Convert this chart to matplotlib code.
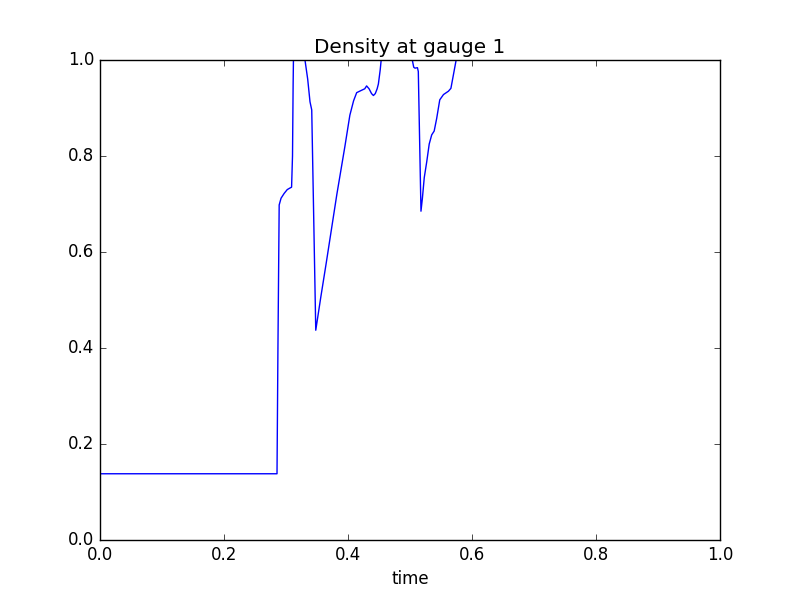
import matplotlib
matplotlib.use("Agg")
import matplotlib.pyplot as plt

time = [0.0, 0.2855, 0.2870, 0.2890, 0.2920, 0.2970, 0.3020, 0.3060, 0.3090,
        0.3105, 0.3115, 0.3125, 0.3170, 0.3250, 0.3306, 0.3350, 0.3387, 0.3415,
        0.3450, 0.3480, 0.3560, 0.3650, 0.3820, 0.3950, 0.4030, 0.4090, 0.4140, 0.4220,
        0.4270, 0.4300, 0.4340, 0.4380, 0.4410, 0.4440, 0.4470, 0.4490, 0.4520,
        0.4550, 0.4700, 0.4900, 0.5000, 0.5037, 0.5060, 0.5080, 0.5120, 0.5134,
        0.5177, 0.5200, 0.5230, 0.5270, 0.5310, 0.5350, 0.5390, 0.5430, 0.5480, 0.5540,
        0.5620, 0.5660, 0.5700, 0.5740, 0.5780, 0.6000, 0.7000, 0.8500, 1.0000]
density = [0.138, 0.138, 0.40, 0.698, 0.712, 0.722, 0.730, 0.733, 0.735,
           0.80, 0.95, 1.05, 1.25, 1.20, 1.00, 0.96, 0.913, 0.896,
           0.65, 0.437, 0.505, 0.578, 0.72, 0.82, 0.885, 0.915, 0.932, 0.937,
           0.940, 0.946, 0.940, 0.930, 0.926, 0.930, 0.940, 0.950, 0.980,
           1.02, 1.15, 1.12, 1.03, 1.00, 0.985, 0.983, 0.984, 0.976,
           0.685, 0.712, 0.755, 0.788, 0.825, 0.844, 0.852, 0.878, 0.917, 0.928,
           0.935, 0.941, 0.969, 0.997, 1.03, 1.15, 1.20, 1.18, 1.15]

plt.style.use('classic')
fig, ax = plt.subplots(figsize=(8, 6), dpi=100)
fig.patch.set_facecolor('white')
ax.plot(time, density, color='b', linewidth=1)
ax.set_xlim(0, 1)
ax.set_ylim(0, 1)
ax.set_title('Density at gauge 1')
ax.set_xlabel('time')
fig.savefig('out.png', dpi=100, facecolor='white')
